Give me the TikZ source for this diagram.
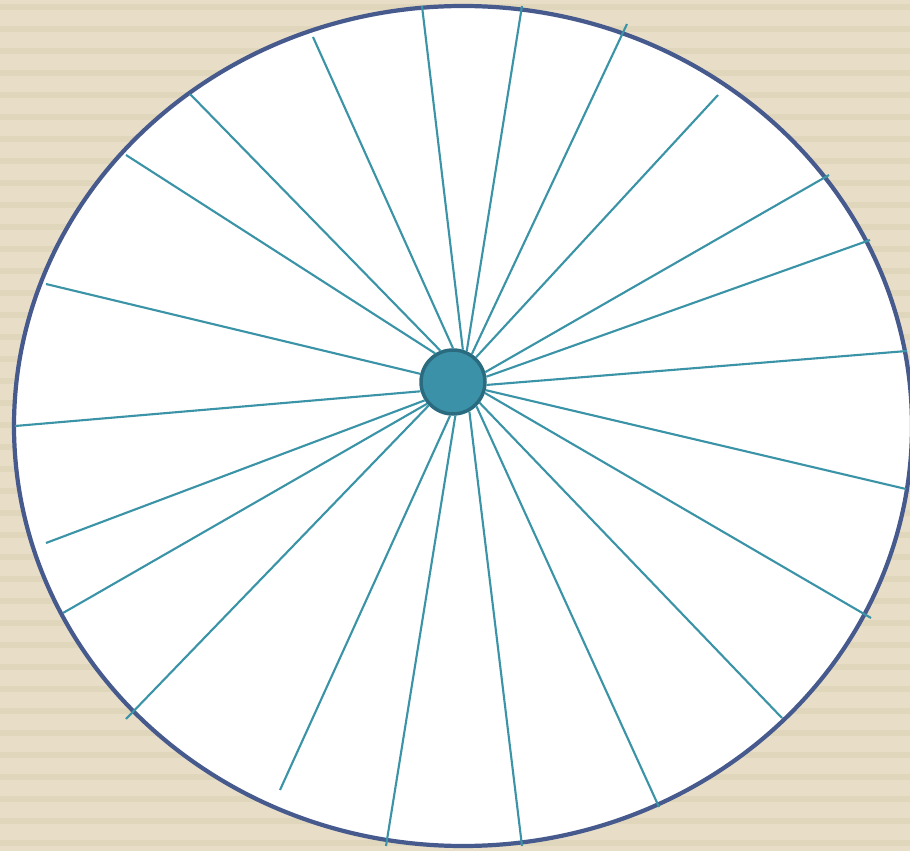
\documentclass[tikz,border=0pt]{standalone}
\usepackage{xcolor}
\usepackage{tikz}
\definecolor{paper}{HTML}{E8DEC8}
\definecolor{paperline}{HTML}{E0D6BC}
\definecolor{rimblue}{HTML}{465A8D}
\definecolor{spoketeal}{HTML}{3A93A6}
\definecolor{hubfill}{HTML}{3A91A8}
\definecolor{hubedge}{HTML}{2A6B7F}
\tikzset{
  rim/.style={draw=rimblue, fill=white, line width=2.4pt},
  spoke/.style={draw=spoketeal, line width=1.2pt},
  hubnode/.style={circle, draw=hubedge, fill=hubfill, line width=2pt, minimum size=1.28cm, inner sep=0pt},
  stripe/.style={fill=paperline, draw=none}
}
\begin{document}
\begin{tikzpicture}[x=0.02cm, y=-0.02cm]
\useasboundingbox (0,0) rectangle (910,851);
\clip (0,0) rectangle (910,851);
\fill[paper] (0,0) rectangle (910,851);
\foreach \i in {0,...,38} {
  \fill[stripe] (0,{4+22*\i}) rectangle (910,{10+22*\i});
}
% wheel
\path[rim] (463,426) ellipse [x radius=449, y radius=420];
\node[hubnode] (hub) at (453,382) {};
\foreach \a/\px/\py [count=\k] in {
  90/313/37, 73/422/6, 66/522/6, 56/627/24, 47/718/95,
  17/829/175, 9/870/240, -5/907/351, -14/906/489, -19/871/618,
  -38/782/718, -46/659/807, -61/522/846, -86/386/846, -95/280/790,
  -136/126/719, -140/63/613, -147/46/543, -164/15/426, 166/46/284,
  122/126/155, 112/190/94} {
  \coordinate (rim\k) at (\px,\py);
  \draw[spoke] (hub.\a) -- (rim\k);
}
\end{tikzpicture}
\end{document}
